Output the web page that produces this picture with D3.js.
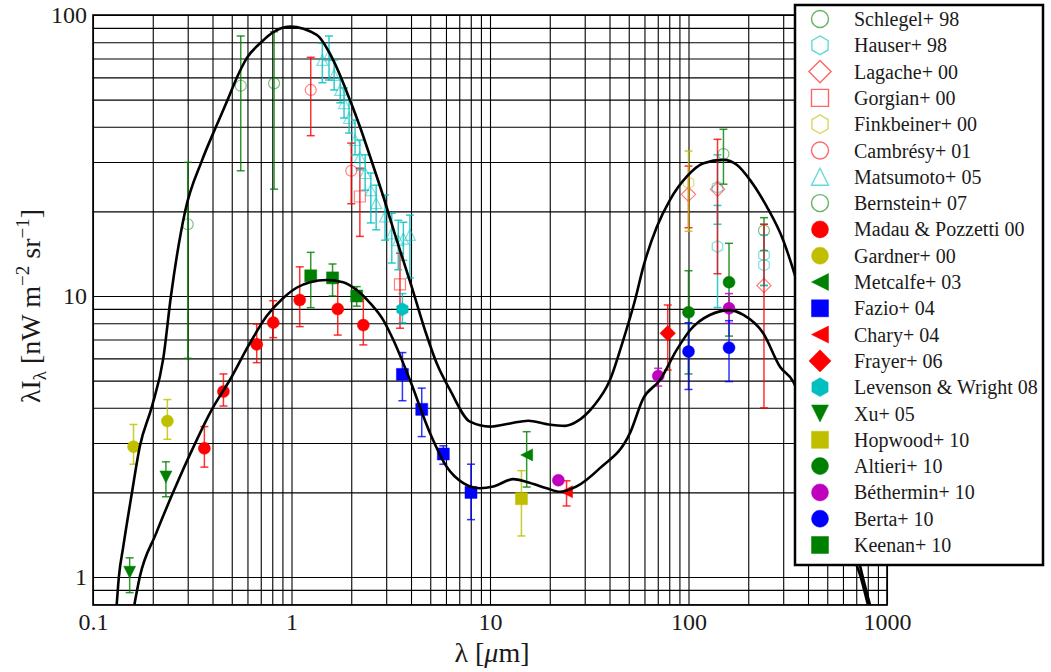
<!DOCTYPE html>
<html>
<head>
<meta charset="utf-8">
<script src="https://cdnjs.cloudflare.com/ajax/libs/d3/7.8.5/d3.min.js"></script>
<style>
  body { margin: 0; background: #fff; }
</style>
</head>
<body>
<svg id="chart" width="1051" height="672"></svg>
<script>
// tick labels
let xTicks = [0.1, 1, 10, 100, 1000]
let yTicks = [1, 10, 100]

// points: [lambda (um), value, lower, upper]
let schlegel = [[150, 32.0, 25.0, 39.2], [240, 17.1, 14.5, 19.0]]
let hauser = [[140, 24.4, 18.0, 31.8], [140, 15.0, 9.1, 21.0], [240, 14.0, 10.9, 18.0], [240, 12.9, 10.9, 16.5]]
let lagache = [[100, 23.0, 17.5, 29.0], [140, 24.0, 12.0, 36.1], [240, 10.9, 4.0, 18.0]]
let gorgian = [[2.21, 22.6, 16.3, 28.5], [3.52, 11.0, 7.68, 14.2]]
let finkbeiner = [[100, 25.3, 17.0, 32.8]]
let cambresy = [[1.25, 54.1, 37.2, 70.7], [2.0, 27.9, 21.3, 35.0]]
let matsumoto = [[1.43, 69.2, 57.4, 79.3], [1.545, 72.0, 58.7, 84.2], [1.64, 61.2, 54.1, 69.2], [1.76, 54.1, 48.7, 59.5],
  [1.84, 48.6, 43.0, 55.0], [1.95, 43.0, 38.0, 49.8], [2.09, 35.9, 31.8, 42.3], [2.21, 31.2, 28.1, 35.9],
  [2.35, 27.4, 23.8, 31.8], [2.51, 23.8, 18.2, 27.4], [2.67, 21.4, 17.2, 24.8], [2.96, 19.2, 15.8, 22.9],
  [3.20, 16.7, 13.1, 19.7], [3.45, 15.8, 12.4, 18.6], [3.66, 16.0, 13.4, 18.3], [3.95, 16.5, 11.6, 19.4]]
let bernstein = [[0.30, 18.0, 6.0, 29.9], [0.555, 56.0, 27.9, 84.2], [0.817, 57.1, 24.0, 87.2]]
let madau = [[0.364, 2.87, 2.46, 3.43], [0.454, 4.57, 4.06, 5.28], [0.668, 6.73, 5.79, 7.95], [0.809, 8.04, 7.11, 9.62],
  [1.10, 9.68, 7.78, 12.7], [1.71, 8.99, 7.26, 11.2], [2.30, 7.88, 6.70, 9.8]]
let gardner = [[0.16, 2.91, 2.52, 3.49], [0.237, 3.59, 3.09, 4.28]]
let metcalfe = [[15.3, 2.72, 2.09, 3.29]]
let fazio = [[3.62, 5.26, 4.24, 6.29], [4.53, 3.95, 3.16, 4.70], [5.82, 2.74, 2.52, 2.93], [8.02, 2.00, 1.60, 2.52]]
let chary = [[24.3, 2.01, 1.79, 2.20]]
let frayer = [[78.6, 7.37, 5.45, 9.29]]
let levenson = [[3.62, 8.97, 8.03, 10.2]]
let xu = [[0.153, 1.04, 0.88, 1.17], [0.233, 2.27, 1.93, 2.57]]
let hopwood = [[14.4, 1.90, 1.40, 2.39]]
let altieri = [[100, 8.75, 5.28, 12.3], [160, 11.2, 7.2, 15.4]]
let bethermin = [[22.1, 2.21, 2.21, 2.21], [70.4, 5.19, 4.78, 5.53], [160, 9.04, 8.0, 10.2]]
let berta = [[100, 6.34, 4.65, 8.03], [160, 6.55, 4.96, 8.17]]
let keenan = [[1.25, 11.8, 9.09, 14.3], [1.61, 11.6, 10.0, 13.0], [2.13, 10.0, 9.2, 10.8]]

// model curves (upper and lower bound)
let upperX = [0.1316, 0.135, 0.142, 0.157, 0.172, 0.198, 0.226, 0.247, 0.291, 0.353, 0.417, 0.480, 0.533, 0.594, 0.708, 0.794,
  0.983, 1.34, 1.62, 1.97, 2.21, 2.49, 2.90, 3.39, 4.03, 4.70, 5.39, 6.29, 7.93, 10.0, 12.6, 15.6, 19.3, 23.9, 27.3, 33.1,
  40.2, 46.9, 53.8, 59.2, 69.2, 80.7, 97.9, 119, 150, 175, 204, 248, 300, 337, 434, 580, 731, 821]
let upperY = [0.795, 1.0, 1.28, 1.99, 2.91, 4.04, 6.0, 10.0, 20.0, 30.2, 40.1, 50.5, 60.3, 70.1, 80.3, 86.1,
  90.9, 84.9, 69.2, 49.8, 40.1, 31.3, 22.6, 15.8, 10.8, 7.57, 5.76, 4.63, 3.57, 3.43, 3.52, 3.60, 3.50, 3.45, 3.57, 4.04,
  5.02, 6.97, 9.68, 12.7, 17.6, 22.0, 26.6, 29.7, 30.5, 29.3, 25.9, 20.8, 15.8, 12.4, 6.43, 2.61, 1.10, 0.795]
let lowerX = [0.1615, 0.172, 0.208, 0.254, 0.327, 0.396, 0.500, 0.606, 0.750, 0.909, 1.06, 1.24, 1.50, 1.82, 2.13, 2.49,
  2.90, 3.26, 3.95, 4.99, 6.05, 7.34, 8.91, 10.4, 13.1, 15.3, 19.3, 22.5, 27.3, 35.8, 50.7, 59.2, 71.8, 87.2, 102, 128,
  162, 189, 238, 289, 337, 460, 614, 731, 802]
let lowerY = [0.795, 1.0, 1.43, 2.01, 2.99, 3.93, 5.16, 6.64, 8.49, 9.84, 10.7, 11.2, 11.4, 11.2, 10.5, 9.44,
  8.21, 6.97, 5.02, 3.25, 2.47, 2.16, 2.07, 2.10, 2.23, 2.18, 2.07, 2.01, 2.10, 2.44, 3.25, 4.32, 5.02, 6.43, 7.57, 8.56,
  8.91, 8.56, 7.37, 5.60, 4.96, 2.40, 1.35, 1.02, 0.795]

let legendLabels = ["Schlegel+ 98", "Hauser+ 98", "Lagache+ 00", "Gorgian+ 00", "Finkbeiner+ 00", "Cambrésy+ 01",
  "Matsumoto+ 05", "Bernstein+ 07", "Madau & Pozzetti 00", "Gardner+ 00", "Metcalfe+ 03", "Fazio+ 04", "Chary+ 04",
  "Frayer+ 06", "Levenson & Wright 08", "Xu+ 05", "Hopwood+ 10", "Altieri+ 10", "Béthermin+ 10", "Berta+ 10", "Keenan+ 10"]

let FONT = "'Liberation Serif', 'DejaVu Serif', 'Times New Roman', Times, serif"
let G = "#008000", C = "#00bfbf", R = "#ff0000", Y = "#bfbf00", B = "#0000ff", M = "#bf00bf"

let series = [
  { data: schlegel, color: G, shape: "circle", open: true },
  { data: hauser, color: C, shape: "hexagon", open: true },
  { data: lagache, color: R, shape: "diamond", open: true },
  { data: gorgian, color: R, shape: "square", open: true },
  { data: finkbeiner, color: Y, shape: "hexagon", open: true },
  { data: cambresy, color: R, shape: "circle", open: true },
  { data: matsumoto, color: C, shape: "triUp", open: true },
  { data: bernstein, color: G, shape: "circle", open: true },
  { data: madau, color: R, shape: "circle" },
  { data: gardner, color: Y, shape: "circle" },
  { data: metcalfe, color: G, shape: "triLeft" },
  { data: fazio, color: B, shape: "square" },
  { data: chary, color: R, shape: "triLeft" },
  { data: frayer, color: R, shape: "diamond" },
  { data: levenson, color: C, shape: "hexagon" },
  { data: xu, color: G, shape: "triDown" },
  { data: hopwood, color: Y, shape: "square" },
  { data: altieri, color: G, shape: "circle" },
  { data: bethermin, color: M, shape: "circle" },
  { data: berta, color: B, shape: "circle" },
  { data: keenan, color: G, shape: "square" }
]
series.forEach((s, i) => s.label = legendLabels[i])

function markerPath(shape, r) {
  let p = d3.path()
  if (shape == "circle") {
    p.moveTo(r, 0)
    p.arc(0, 0, r, 0, 2 * Math.PI)
  } else if (shape == "square") {
    p.rect(-r, -r, 2 * r, 2 * r)
  } else if (shape == "diamond") {
    let d = r * 1.3
    p.moveTo(0, -d); p.lineTo(d, 0); p.lineTo(0, d); p.lineTo(-d, 0)
  } else if (shape == "hexagon") {
    let h = r * 1.1
    for (let k = 0; k < 6; k++) {
      let a = -Math.PI / 2 + k * Math.PI / 3
      if (k == 0) p.moveTo(h * Math.cos(a), h * Math.sin(a))
      else p.lineTo(h * Math.cos(a), h * Math.sin(a))
    }
  } else if (shape == "triUp") {
    p.moveTo(0, -r); p.lineTo(r, r); p.lineTo(-r, r)
  } else if (shape == "triDown") {
    p.moveTo(0, r); p.lineTo(r, -r); p.lineTo(-r, -r)
  } else if (shape == "triLeft") {
    p.moveTo(-r, 0); p.lineTo(r, -r); p.lineTo(r, r)
  }
  p.closePath()
  return p.toString()
}

let svg = d3.select("#chart").attr("font-family", FONT)
let mLeft = 93, mRight = 887, mTop = 15, mBottom = 605

let xScale = d3.scaleLog().domain([0.1, 1000]).range([mLeft, mRight])
let yScale = d3.scaleLog().domain([0.795, 100]).range([mBottom, mTop])

// grid (major + minor)
let gridX = svg.append("g")
  .attr("transform", `translate(0, ${mBottom})`)
  .call(d3.axisBottom(xScale).tickSize(-(mBottom - mTop)).tickFormat(""))
gridX.select(".domain").remove()
gridX.selectAll("line").attr("stroke", "#000").attr("stroke-width", 1.1)

let gridY = svg.append("g")
  .attr("transform", `translate(${mLeft}, 0)`)
  .call(d3.axisLeft(yScale).tickSize(-(mRight - mLeft)).tickFormat(""))
gridY.select(".domain").remove()
gridY.selectAll("line").attr("stroke", "#000").attr("stroke-width", 1.1)

// tick labels
let xAxis = svg.append("g")
  .attr("transform", `translate(0, ${mBottom})`)
  .call(d3.axisBottom(xScale).tickValues(xTicks).tickSize(0).tickPadding(8).tickFormat(d => d3.format("~g")(d)))
xAxis.select(".domain").remove()
xAxis.attr("font-size", 24)

let yAxis = svg.append("g")
  .attr("transform", `translate(${mLeft}, 0)`)
  .call(d3.axisLeft(yScale).tickValues(yTicks).tickSize(0).tickPadding(6).tickFormat(d => d3.format("~g")(d)))
yAxis.select(".domain").remove()
yAxis.attr("font-size", 24)

// frame
svg.append("rect")
  .attr("x", mLeft).attr("y", mTop)
  .attr("width", mRight - mLeft).attr("height", mBottom - mTop)
  .attr("fill", "none").attr("stroke", "#000").attr("stroke-width", 1.6)

// data: error bars then markers
let plot = svg.append("g")
series.forEach(s => {
  let g = plot.append("g")
  let bars = s.data.filter(d => d[3] > d[2])
  g.selectAll("line.bar").data(bars).join("line").attr("class", "bar")
    .attr("x1", d => xScale(d[0])).attr("x2", d => xScale(d[0]))
    .attr("y1", d => yScale(d[2])).attr("y2", d => yScale(d[3]))
    .attr("stroke", s.color).attr("stroke-width", 1.5).attr("opacity", 0.8)
  g.selectAll("line.caplo").data(bars).join("line").attr("class", "caplo")
    .attr("x1", d => xScale(d[0]) - 4).attr("x2", d => xScale(d[0]) + 4)
    .attr("y1", d => yScale(d[2])).attr("y2", d => yScale(d[2]))
    .attr("stroke", s.color).attr("stroke-width", 1.5).attr("opacity", 0.8)
  g.selectAll("line.caphi").data(bars).join("line").attr("class", "caphi")
    .attr("x1", d => xScale(d[0]) - 4).attr("x2", d => xScale(d[0]) + 4)
    .attr("y1", d => yScale(d[3])).attr("y2", d => yScale(d[3]))
    .attr("stroke", s.color).attr("stroke-width", 1.5).attr("opacity", 0.8)
  g.selectAll("path").data(s.data).join("path")
    .attr("transform", d => `translate(${xScale(d[0])}, ${yScale(d[1])})`)
    .attr("d", markerPath(s.shape, s.open ? 5.5 : 6))
    .attr("fill", s.open ? "none" : s.color)
    .attr("stroke", s.color)
    .attr("stroke-width", s.open ? 1.2 : 0.5)
    .attr("opacity", s.open ? 0.5 : 1)
})

// model curves
let line = d3.line().x(d => xScale(d[0])).y(d => yScale(d[1])).curve(d3.curveMonotoneX)
svg.append("path")
  .datum(upperX.map((v, i) => [v, upperY[i]]))
  .attr("d", line).attr("fill", "none").attr("stroke", "#000").attr("stroke-width", 2.6)
svg.append("path")
  .datum(lowerX.map((v, i) => [v, lowerY[i]]))
  .attr("d", line).attr("fill", "none").attr("stroke", "#000").attr("stroke-width", 2.6)

// axis titles
let xlab = svg.append("text")
  .attr("x", 492).attr("y", 662)
  .attr("text-anchor", "middle").attr("font-size", 28)
xlab.append("tspan").text("λ [")
xlab.append("tspan").attr("font-style", "italic").text("μ")
xlab.append("tspan").text("m]")

let ylab = svg.append("text")
  .attr("transform", "translate(40, 306) rotate(-90)")
  .attr("text-anchor", "middle").attr("font-size", 28)
ylab.append("tspan").text("λI")
ylab.append("tspan").attr("font-size", 19).attr("dy", 6).text("λ")
ylab.append("tspan").attr("dy", -6).text(" [nW m")
ylab.append("tspan").attr("font-size", 19).attr("dy", -11).text("−2")
ylab.append("tspan").attr("dy", 11).text(" sr")
ylab.append("tspan").attr("font-size", 19).attr("dy", -11).text("−1")
ylab.append("tspan").attr("dy", 11).text("]")

// legend
let legend = svg.append("g")
legend.append("rect")
  .attr("x", 795).attr("y", 5).attr("width", 248).attr("height", 560)
  .attr("fill", "#fff").attr("stroke", "#000").attr("stroke-width", 2.5)

let rows = legend.selectAll("g.row").data(series).join("g")
  .attr("transform", (d, i) => `translate(0, ${19 + i * 26.3})`)
rows.append("path")
  .attr("transform", "translate(820, 0)")
  .attr("d", d => markerPath(d.shape, 8.5))
  .attr("fill", d => d.open ? "none" : d.color)
  .attr("stroke", d => d.color)
  .attr("stroke-width", d => d.open ? 1.4 : 0.5)
  .attr("opacity", d => d.open ? 0.6 : 1)
rows.append("text")
  .attr("x", 854).attr("dy", "0.35em")
  .attr("font-size", 20)
  .text(d => d.label)

svg.selectAll("text").style("font-family", FONT).attr("fill", "#1a1a1a")
</script>
</body>
</html>
